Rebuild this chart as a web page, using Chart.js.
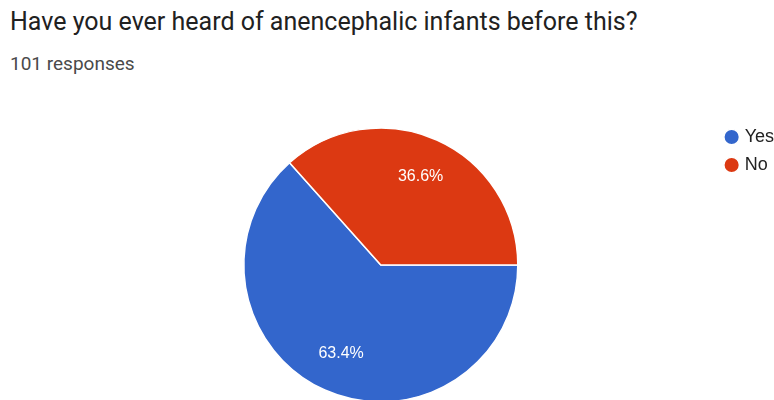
<!DOCTYPE html>
<html>
<head>
<meta charset="utf-8">
<script src="https://cdn.jsdelivr.net/npm/chart.js@4"></script>
<style>
  html, body { margin: 0; padding: 0; background: #fff; width: 774px; height: 400px; overflow: hidden; position: relative; }
  #title { position: absolute; left: 10px; top: 8.5px; font: 25px/25px Roboto, sans-serif; color: #212121; white-space: nowrap; }
  #sub { position: absolute; left: 10px; top: 54px; font: 19px/19px Roboto, sans-serif; color: #4a4a4a; white-space: nowrap; }
  #wrap { position: absolute; left: 0; top: 0; width: 790px; height: 412px; }
</style>
</head>
<body>
<div id="title">Have you ever heard of anencephalic infants before this?</div>
<div id="sub">101 responses</div>
<div id="wrap"><canvas id="c"></canvas></div>
<script>
const categories = ["Yes", "No"];
const percentages = [63.4, 36.6];
const sliceColors = ["#3366cc", "#dc3912"];

const pctLabels = {
  id: "pctLabels",
  afterDatasetsDraw(chart) {
    const ctx = chart.ctx;
    const meta = chart.getDatasetMeta(0);
    ctx.save();
    ctx.fillStyle = "#ffffff";
    ctx.font = "16px 'Liberation Sans', Arial, sans-serif";
    ctx.textAlign = "center";
    ctx.textBaseline = "middle";
    meta.data.forEach((arc, i) => {
      const p = arc.getProps(["x", "y", "startAngle", "endAngle", "outerRadius"], true);
      const mid = (p.startAngle + p.endAngle) / 2;
      const r = p.outerRadius * 0.71;
      ctx.fillText(percentages[i].toFixed(1) + "%", p.x + Math.cos(mid) * r, p.y + Math.sin(mid) * r);
    });
    ctx.restore();
  }
};

new Chart(document.getElementById("c"), {
  type: "pie",
  data: {
    labels: categories,
    datasets: [{
      data: percentages,
      backgroundColor: sliceColors,
      borderColor: "#ffffff",
      borderWidth: 1.5,
      radius: 137
    }]
  },
  options: {
    responsive: true,
    maintainAspectRatio: false,
    animation: false,
    rotation: 90,
    layout: { padding: { top: 118, left: 44, right: 6, bottom: 0 } },
    plugins: {
      tooltip: { enabled: false },
      legend: {
        position: "right",
        align: "start",
        labels: {
          usePointStyle: true,
          pointStyle: "circle",
          boxWidth: 8,
          boxHeight: 11,
          padding: 10,
          color: "#222222",
          font: { family: "'Liberation Sans', Arial, sans-serif", size: 18 }
        }
      }
    }
  },
  plugins: [pctLabels]
});
</script>
</body>
</html>
